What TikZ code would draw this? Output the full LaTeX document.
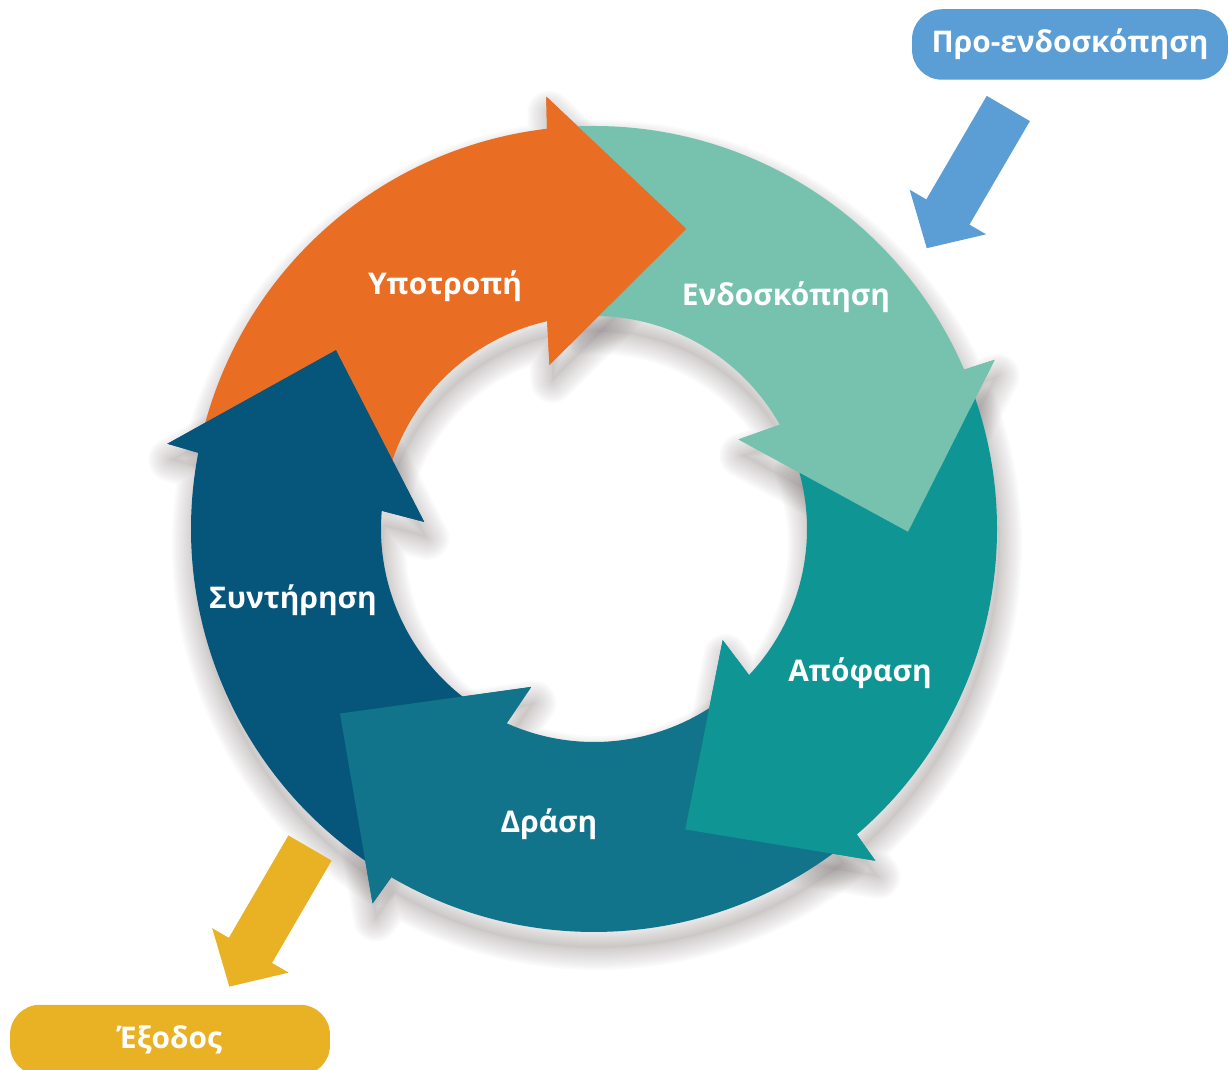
\documentclass[tikz,border=0pt]{standalone}
\usepackage{fontspec}
\setmainfont{Open Sans}
\usetikzlibrary{arrows.meta}

\definecolor{relapse}{HTML}{E96E24}
\definecolor{contemplate}{HTML}{76C2AE}
\definecolor{decide}{HTML}{109595}
\definecolor{act}{HTML}{12748A}
\definecolor{maintain}{HTML}{06567C}
\definecolor{preblue}{HTML}{5B9DD5}
\definecolor{exityellow}{HTML}{E8B224}
\definecolor{shadowgray}{RGB}{60,45,45}

% one ring arrow: #1 tip angle, #2 tail angle
\newcommand{\ringarrow}[2]{({#2}:403) arc[start angle={#2}, end angle={#1+23.8}, radius=403]
  -- ({#1+23.4}:435) -- ({#1}:314) -- ({#1+32.3}:170) -- ({#1+29.8}:213)
  arc[start angle={#1+29.8}, end angle={#2}, radius=213] -- cycle}
\newcommand{\ringhead}[1]{({#1+23.8}:403) -- ({#1+23.4}:435) -- ({#1}:314)
  -- ({#1+32.3}:170) -- ({#1+29.8}:213) -- cycle}

\tikzset{
  steplabel/.style={text=white, font=\bfseries\fontsize{17}{20}\selectfont, anchor=base},
  stagebox/.style={rounded corners=0.6cm, text=white, inner sep=0pt,
    minimum height=1.41cm, font=\bfseries\fontsize{17}{20}\selectfont},
  blockarrow/.style={line width=1cm, -{Triangle[width=1.72cm, length=0.84cm]}},
}

\begin{document}
\begin{tikzpicture}[x=0.02cm, y=0.02cm]
  \useasboundingbox (0,0) rectangle (1229,1070);
  \clip (0,0) rectangle (1229,1070);

  % soft shadow under the ring
  \begin{scope}[shift={(597,525)}]
    \foreach \tip/\tail in {72.9/166.3, -0.5/93.9, -73.1/20.5, -144/-52.1, -214.7/-123}{
      \fill[shadowgray, opacity=0.04] \ringarrow{\tip}{\tail};
      \foreach \w in {4,8,...,44}
        \draw[shadowgray, opacity=0.022, line width=\w*0.02cm, line join=round] \ringarrow{\tip}{\tail};
    }
  \end{scope}

  % the five stages
  \begin{scope}[shift={(594,541)}]
    \foreach \tip/\tail/\col in {72.9/166.3/relapse, -0.5/93.9/contemplate,
        -73.1/20.5/decide, -144/-52.1/act, -214.7/-123/maintain}
      \fill[\col] \ringarrow{\tip}{\tail};
    \foreach \tip/\col in {72.9/relapse, -0.5/contemplate, -73.1/decide,
        -144/act, -214.7/maintain}
      \fill[\col] \ringhead{\tip};
  \end{scope}

  \node[steplabel] (relapse-l) at (445,775) {Υποτροπή};
  \node[steplabel] (contemplate-l) at (786,764) {Ενδοσκόπηση};
  \node[steplabel] (decide-l) at (860,388) {Απόφαση};
  \node[steplabel] (act-l) at (549,237) {Δράση};
  \node[steplabel] (maintain-l) at (293,461) {Συντήρηση};

  % entry and exit
  \node[stagebox, fill=preblue, minimum width=6.32cm] (pre) at (1070,1025.5) {Προ-ενδοσκόπηση};
  \node[stagebox, fill=exityellow, minimum width=6.4cm] (exit) at (170,30) {Έξοδος};

  \coordinate (pre-from) at (1008.3,961.5);
  \coordinate (pre-to) at (926.7,821.7);
  \coordinate (exit-from) at (310,222);
  \coordinate (exit-to) at (229.3,83.3);
  \draw[blockarrow, preblue] (pre-from) -- (pre-to);
  \draw[blockarrow, exityellow] (exit-from) -- (exit-to);
\end{tikzpicture}
\end{document}
